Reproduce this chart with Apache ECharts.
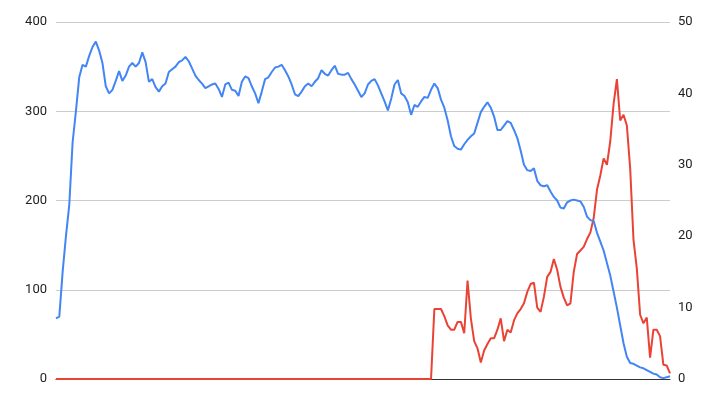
<!DOCTYPE html>
<html>
<head>
<meta charset="utf-8">
<script src="https://cdn.jsdelivr.net/npm/echarts@6/dist/echarts.min.js"></script>
<style>
    html, body { margin: 0; padding: 0; background: #fff; }
    #chart { width: 726px; height: 411px; }
</style>
</head>
<body>
<div id="chart"></div>
<script>
// left axis series (blue), one value per sample
const blueValues = [
    68, 70, 120, 160, 195, 265, 300, 338, 352, 350,
    362, 372, 378, 368, 354, 328, 320, 324, 334, 345,
    334, 340, 350, 354, 350, 354, 366, 355, 333, 336,
    327, 322, 328, 331, 344, 347, 350, 355, 357, 361,
    356, 348, 340, 335, 331, 326, 328, 330, 331, 325,
    316, 330, 332, 324, 323, 317, 333, 339, 337, 328,
    320, 309, 322, 336, 338, 344, 349, 350, 352, 346,
    339, 330, 319, 317, 322, 328, 331, 328, 333, 337,
    346, 342, 340, 346, 351, 342, 341, 341, 343, 336,
    330, 323, 316, 320, 330, 334, 336, 329, 320, 311,
    301, 314, 330, 335, 320, 317, 310, 296, 307, 305,
    311, 316, 315, 324, 331, 326, 313, 304, 290, 272,
    261, 258, 257, 263, 268, 272, 275, 287, 299, 305,
    310, 304, 294, 279, 279, 284, 289, 287, 279, 270,
    256, 240, 234, 233, 236, 222, 217, 216, 217, 210,
    204, 200, 192, 191, 198, 200, 201, 200, 199, 193,
    182, 178, 177, 164, 154, 144, 130, 116, 98, 80,
    60, 40, 25, 18, 17, 15, 13, 12, 10, 8,
    6, 5, 2, 1, 2, 3
];

// right axis series (red), same samples
const redValues = [
    0, 0, 0, 0, 0, 0, 0, 0, 0, 0,
    0, 0, 0, 0, 0, 0, 0, 0, 0, 0,
    0, 0, 0, 0, 0, 0, 0, 0, 0, 0,
    0, 0, 0, 0, 0, 0, 0, 0, 0, 0,
    0, 0, 0, 0, 0, 0, 0, 0, 0, 0,
    0, 0, 0, 0, 0, 0, 0, 0, 0, 0,
    0, 0, 0, 0, 0, 0, 0, 0, 0, 0,
    0, 0, 0, 0, 0, 0, 0, 0, 0, 0,
    0, 0, 0, 0, 0, 0, 0, 0, 0, 0,
    0, 0, 0, 0, 0, 0, 0, 0, 0, 0,
    0, 0, 0, 0, 0, 0, 0, 0, 0, 0,
    0, 0, 0, 0, 9.8, 9.8, 9.8, 8.8, 7.5, 6.9,
    6.9, 8, 8, 6.4, 13.8, 8.5, 5.3, 4.3, 2.3, 4,
    4.9, 5.7, 5.7, 6.9, 8.5, 5.3, 6.9, 6.5, 8.2, 9.2,
    9.8, 10.6, 12.2, 13.3, 13.5, 10, 9.4, 11.5, 14.3, 15,
    16.8, 15.3, 12.9, 11.4, 10.3, 10.6, 15, 17.5, 18, 18.5,
    19.6, 20.5, 22.5, 26.5, 28.5, 30.9, 30, 33.3, 38.5, 42,
    36.2, 37, 35.5, 29.5, 19.5, 15.5, 9, 7.8, 8.6, 3,
    6.9, 6.9, 6, 2, 1.9, 0.8
];

const leftTicks = { min: 0, max: 400, interval: 100 };
const rightTicks = { min: 0, max: 50, interval: 10 };

const samples = blueValues.map((_, i) => i + 1);

const chart = echarts.init(document.getElementById('chart'));

const labelStyle = {
    color: '#222',
    fontSize: 13,
    fontFamily: 'Roboto, "Liberation Sans", Arial, sans-serif'
};

chart.setOption({
    animation: false,
    backgroundColor: '#fff',
    grid: { left: 56, right: 56, top: 22, bottom: 32 },
    xAxis: {
        type: 'category',
        data: samples,
        boundaryGap: false,
        axisLine: { lineStyle: { color: '#333', width: 1 } },
        axisTick: { show: false },
        axisLabel: { show: false }
    },
    yAxis: [
        {
            type: 'value',
            ...leftTicks,
            axisLine: { show: false },
            axisTick: { show: false },
            axisLabel: { ...labelStyle, margin: 9 },
            splitLine: { lineStyle: { color: '#ccc', width: 1 } }
        },
        {
            type: 'value',
            ...rightTicks,
            position: 'right',
            axisLine: { show: false },
            axisTick: { show: false },
            axisLabel: { ...labelStyle, margin: 8 },
            splitLine: { show: false }
        }
    ],
    series: [
        {
            type: 'line',
            yAxisIndex: 1,
            data: redValues,
            showSymbol: false,
            lineStyle: { color: '#ea4335', width: 2 },
            itemStyle: { color: '#ea4335' }
        },
        {
            type: 'line',
            yAxisIndex: 0,
            data: blueValues,
            showSymbol: false,
            lineStyle: { color: '#4285f4', width: 2 },
            itemStyle: { color: '#4285f4' }
        }
    ]
});
</script>
</body>
</html>
